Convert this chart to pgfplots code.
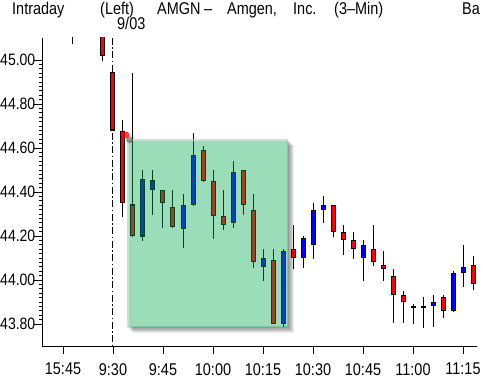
\documentclass[border=0pt]{standalone}
\usepackage{pgfplots}
\usepackage{pgfplotstable}
\pgfplotsset{compat=1.18}
\usepackage{fontspec}
\setmainfont{Liberation Sans}
\newfontfamily\chartfont{Liberation Sans}[FakeStretch=0.85]
\definecolor{boxgreen}{RGB}{12,170,85}
\definecolor{candlered}{RGB}{255,0,0}
\definecolor{candleblue}{RGB}{0,0,255}

% x = bar index (3-min bars, 0 = 9:30); o,c = body ends; h,l = high/low
\pgfplotstableread{
x o c h l
-4 45.200 45.150 45.220 45.073
-1 45.150 45.021 45.160 44.997
0 44.942 44.682 44.942 44.682
1 44.674 44.353 44.727 44.288
2 44.341 44.201 44.940 44.197
5 44.408 44.353 44.408 44.238
6 44.330 44.242 44.409 44.238
9 44.589 44.452 44.609 44.445
10 44.449 44.292 44.500 44.188
11 44.289 44.253 44.409 44.227
13 44.499 44.344 44.499 44.295
14 44.317 44.085 44.391 44.056
16 44.090 43.803 44.141 43.799
18 44.140 44.103 44.249 44.049
22 44.339 44.220 44.339 44.197
23 44.217 44.183 44.250 44.115
24 44.180 44.144 44.217 44.097
26 44.140 44.085 44.250 44.065
27 44.067 44.053 44.132 43.997
28 44.017 43.935 44.049 43.806
29 43.930 43.903 43.950 43.806
33 43.921 43.862 43.932 43.829
36 44.067 43.985 44.109 43.956
}\redbars
\pgfplotstableread{
x o c h l
3 44.201 44.458 44.500 44.179
4 44.411 44.450 44.500 44.295
7 44.235 44.339 44.391 44.147
8 44.344 44.567 44.667 44.336
12 44.262 44.490 44.541 44.238
15 44.062 44.099 44.141 43.997
17 43.803 44.130 44.141 43.788
19 44.103 44.190 44.200 44.056
20 44.162 44.317 44.349 44.095
21 44.321 44.339 44.382 44.258
25 44.103 44.158 44.180 43.997
32 43.885 43.899 43.932 43.788
34 43.862 44.030 44.042 43.856
35 44.035 44.058 44.159 43.970
}\bluebars
\pgfplotstableread{
x o c h l
30 43.879 43.879 43.889 43.799
31 43.879 43.879 43.921 43.780
}\dojibars

\pgfplotsset{candle/.style={forget plot, only marks, mark=*, mark size=0pt,
    mark options={draw=none, fill=none},
    error bars/.cd, y dir=both, y explicit, error mark=none}}
\newcommand\wicks[1]{%
  \addplot[candle, error bar style={line width=1pt, draw=black}]
    table[x=x, y expr={(\thisrow{h}+\thisrow{l})/2}, y error expr={(\thisrow{h}-\thisrow{l})/2}] {#1};}
\newcommand\bodyline[1]{%
  \addplot[candle, error bar style={line width=5pt, draw=black}]
    table[x=x, y expr={(\thisrow{o}+\thisrow{c})/2}, y error expr={abs(\thisrow{o}-\thisrow{c})/2+0.0032}] {#1};}
\newcommand\bodyfill[2]{%
  \addplot[candle, error bar style={line width=3pt, draw=#2}]
    table[x=x, y expr={(\thisrow{o}+\thisrow{c})/2}, y error expr={max(abs(\thisrow{o}-\thisrow{c})/2-0.0032,0)}] {#1};}

\begin{document}
\begin{tikzpicture}
\begin{axis}[
  name=ax, scale only axis, width=434.5pt, height=308pt,
  xmin=-7.1, xmax=36.35, ymin=43.70, ymax=45.10,
  axis x line=bottom, axis y line=left,
  axis line style={-, line width=0.8pt, black},
  tick align=outside,
  xtick={-5,0,5,10,15,20,25,30,35},
  xticklabels={15:45,9:30,9:45,10:00,10:15,10:30,10:45,11:00,11:15},
  ytick={43.8,44.0,44.2,44.4,44.6,44.8,45.0},
  minor y tick num=9, minor x tick num=0,
  major tick length=8pt, minor tick length=3pt,
  tick style={black, line width=0.8pt},
  xticklabel style={font=\chartfont\fontsize{17}{17}\selectfont, inner sep=0pt, yshift=-9pt},
  yticklabel style={font=\chartfont\fontsize{16.5}{16.5}\selectfont, inner sep=0pt, xshift=1.5pt},
  /pgf/number format/fixed, /pgf/number format/fixed zerofill,
  /pgf/number format/precision=2, /pgf/number format/assume math mode=true,
  clip=true,
]
% 9:30 session-open line
\addplot[forget plot, black, line width=1pt, dash pattern=on 7pt off 2.5pt on 1.5pt off 2.5pt] coordinates {(0,45.10) (0,43.70)};

\wicks{\redbars}\wicks{\bluebars}\wicks{\dojibars}
\bodyline{\redbars}\bodyline{\bluebars}\bodyline{\dojibars}
\bodyfill{\redbars}{candlered}\bodyfill{\bluebars}{candleblue}

% shadow of the highlight box
\addplot[forget plot, draw=none, fill=black, fill opacity=0.12] coordinates {(17.47,44.614) (18.07,44.614) (18.07,43.761) (1.97,43.761) (1.97,43.788) (17.47,43.788)} -- cycle;
\addplot[forget plot, draw=none, fill=black, fill opacity=0.12] coordinates {(17.47,44.621) (17.92,44.621) (17.92,43.768) (1.82,43.768) (1.82,43.788) (17.47,43.788)} -- cycle;
\addplot[forget plot, draw=none, fill=black, fill opacity=0.12] coordinates {(17.47,44.627) (17.77,44.627) (17.77,43.774) (1.67,43.774) (1.67,43.788) (17.47,43.788)} -- cycle;
\addplot[forget plot, draw=none, fill=black, fill opacity=0.12] coordinates {(17.47,44.634) (17.62,44.634) (17.62,43.781) (1.52,43.781) (1.52,43.788) (17.47,43.788)} -- cycle;
% highlight box
\addplot[forget plot, draw=none, fill=boxgreen, fill opacity=0.41] coordinates {(1.37,43.788) (17.47,43.788) (17.47,44.641) (1.37,44.641)} -- cycle;
% light bevel along the box's top and left edges
\addplot[forget plot, draw=white, draw opacity=0.35, line width=2pt] coordinates {(1.47,43.79) (1.47,44.636) (17.47,44.636)};
% anchor marker
\addplot[forget plot, only marks, mark=*, mark size=3pt, black, opacity=0.35] coordinates {(1.65,44.638)};
\addplot[forget plot, only marks, mark=*, mark size=3.2pt, candlered, opacity=0.75] coordinates {(1.3,44.659)};
\end{axis}
\begin{scope}[every node/.style={inner sep=0pt, anchor=base west, font=\chartfont\fontsize{17}{17}\selectfont}]
\node at ([shift={(-30pt,23pt)}]ax.north west) {Intraday};
\node at ([shift={(58pt,23pt)}]ax.north west) {(Left)};
\node at ([shift={(75pt,8pt)}]ax.north west) {9/03};
\node at ([shift={(115pt,23pt)}]ax.north west) {AMGN};
\node at ([shift={(162pt,23pt)}]ax.north west) {\char"2013};
\node at ([shift={(185pt,23pt)}]ax.north west) {Amgen,};
\node at ([shift={(251pt,23pt)}]ax.north west) {Inc.};
\node at ([shift={(292pt,23pt)}]ax.north west) {(3\char"2013 Min)};
\node at ([shift={(420pt,23pt)}]ax.north west) {Ba};
\end{scope}
\pgfresetboundingbox
\path[use as bounding box] ([shift={(-42pt,-35pt)}]ax.south west) rectangle ([shift={(6.5pt,38pt)}]ax.north east);
\end{tikzpicture}
\end{document}
